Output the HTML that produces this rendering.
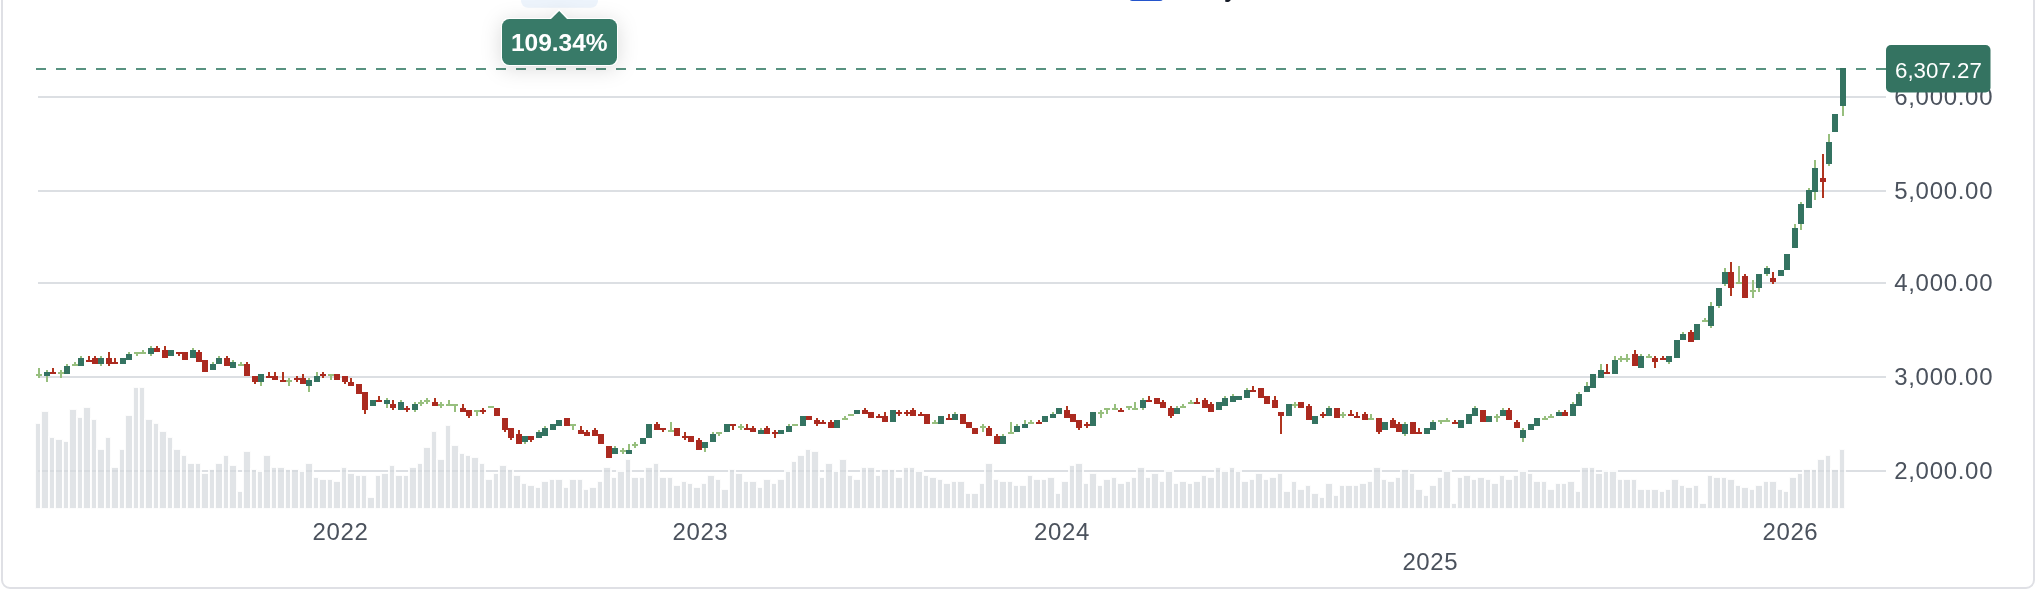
<!DOCTYPE html>
<html><head><meta charset="utf-8"><title>Chart</title>
<style>
html,body{margin:0;padding:0;background:#fff;}
body{width:2038px;height:592px;overflow:hidden;position:relative;font-family:"Liberation Sans",Arial,sans-serif;}
svg{position:absolute;left:0;top:0;will-change:transform;}
.yl{font-size:24px;fill:#4b525d;letter-spacing:0.7px;}
.xl{font-size:24px;fill:#4b525d;letter-spacing:0.6px;}
</style></head>
<body>
<svg width="2038" height="592" viewBox="0 0 2038 592">
<defs>
<filter id="sh" x="-60%" y="-120%" width="220%" height="340%">
<feDropShadow dx="0" dy="3" stdDeviation="10" flood-color="#000" flood-opacity="0.14"/>
</filter>
</defs>
<rect x="2" y="-30" width="2032" height="618" rx="8" ry="8" fill="#fff" stroke="#dfe0e5" stroke-width="2"/>
<rect x="1129" y="-12" width="34.5" height="12.9" rx="3.5" fill="#2455cc"/>
<text x="1224.3" y="-3.9" font-size="30" fill="#141a26" font-family="Liberation Sans, sans-serif">y</text>
<g shape-rendering="crispEdges">
<rect x="38" y="96" width="1848" height="2" fill="#dcdfe3"/>
<rect x="38" y="190" width="1848" height="2" fill="#dcdfe3"/>
<rect x="38" y="282" width="1848" height="2" fill="#dcdfe3"/>
<rect x="38" y="376" width="1848" height="2" fill="#dcdfe3"/>
<rect x="38" y="470" width="1848" height="2" fill="#dcdfe3"/>
<rect x="35" y="423" width="6" height="86" fill="rgba(212,216,221,0.7)" stroke="rgba(255,255,255,0.88)" stroke-width="2"/>
<rect x="41" y="411" width="8" height="98" fill="rgba(212,216,221,0.7)" stroke="rgba(255,255,255,0.88)" stroke-width="2"/>
<rect x="49" y="437" width="6" height="72" fill="rgba(212,216,221,0.7)" stroke="rgba(255,255,255,0.88)" stroke-width="2"/>
<rect x="55" y="439" width="8" height="70" fill="rgba(212,216,221,0.7)" stroke="rgba(255,255,255,0.88)" stroke-width="2"/>
<rect x="63" y="441" width="6" height="68" fill="rgba(212,216,221,0.7)" stroke="rgba(255,255,255,0.88)" stroke-width="2"/>
<rect x="69" y="409" width="8" height="100" fill="rgba(212,216,221,0.7)" stroke="rgba(255,255,255,0.88)" stroke-width="2"/>
<rect x="77" y="417" width="6" height="92" fill="rgba(212,216,221,0.7)" stroke="rgba(255,255,255,0.88)" stroke-width="2"/>
<rect x="83" y="407" width="8" height="102" fill="rgba(212,216,221,0.7)" stroke="rgba(255,255,255,0.88)" stroke-width="2"/>
<rect x="91" y="419" width="6" height="90" fill="rgba(212,216,221,0.7)" stroke="rgba(255,255,255,0.88)" stroke-width="2"/>
<rect x="97" y="449" width="8" height="60" fill="rgba(212,216,221,0.7)" stroke="rgba(255,255,255,0.88)" stroke-width="2"/>
<rect x="105" y="437" width="6" height="72" fill="rgba(212,216,221,0.7)" stroke="rgba(255,255,255,0.88)" stroke-width="2"/>
<rect x="111" y="467" width="8" height="42" fill="rgba(212,216,221,0.7)" stroke="rgba(255,255,255,0.88)" stroke-width="2"/>
<rect x="119" y="449" width="6" height="60" fill="rgba(212,216,221,0.7)" stroke="rgba(255,255,255,0.88)" stroke-width="2"/>
<rect x="125" y="415" width="8" height="94" fill="rgba(212,216,221,0.7)" stroke="rgba(255,255,255,0.88)" stroke-width="2"/>
<rect x="133" y="387" width="6" height="122" fill="rgba(212,216,221,0.7)" stroke="rgba(255,255,255,0.88)" stroke-width="2"/>
<rect x="139" y="387" width="6" height="122" fill="rgba(212,216,221,0.7)" stroke="rgba(255,255,255,0.88)" stroke-width="2"/>
<rect x="145" y="419" width="8" height="90" fill="rgba(212,216,221,0.7)" stroke="rgba(255,255,255,0.88)" stroke-width="2"/>
<rect x="153" y="423" width="6" height="86" fill="rgba(212,216,221,0.7)" stroke="rgba(255,255,255,0.88)" stroke-width="2"/>
<rect x="159" y="431" width="8" height="78" fill="rgba(212,216,221,0.7)" stroke="rgba(255,255,255,0.88)" stroke-width="2"/>
<rect x="167" y="437" width="6" height="72" fill="rgba(212,216,221,0.7)" stroke="rgba(255,255,255,0.88)" stroke-width="2"/>
<rect x="173" y="449" width="8" height="60" fill="rgba(212,216,221,0.7)" stroke="rgba(255,255,255,0.88)" stroke-width="2"/>
<rect x="181" y="455" width="6" height="54" fill="rgba(212,216,221,0.7)" stroke="rgba(255,255,255,0.88)" stroke-width="2"/>
<rect x="187" y="463" width="8" height="46" fill="rgba(212,216,221,0.7)" stroke="rgba(255,255,255,0.88)" stroke-width="2"/>
<rect x="195" y="463" width="6" height="46" fill="rgba(212,216,221,0.7)" stroke="rgba(255,255,255,0.88)" stroke-width="2"/>
<rect x="201" y="473" width="8" height="36" fill="rgba(212,216,221,0.7)" stroke="rgba(255,255,255,0.88)" stroke-width="2"/>
<rect x="209" y="469" width="6" height="40" fill="rgba(212,216,221,0.7)" stroke="rgba(255,255,255,0.88)" stroke-width="2"/>
<rect x="215" y="463" width="8" height="46" fill="rgba(212,216,221,0.7)" stroke="rgba(255,255,255,0.88)" stroke-width="2"/>
<rect x="223" y="455" width="6" height="54" fill="rgba(212,216,221,0.7)" stroke="rgba(255,255,255,0.88)" stroke-width="2"/>
<rect x="229" y="465" width="8" height="44" fill="rgba(212,216,221,0.7)" stroke="rgba(255,255,255,0.88)" stroke-width="2"/>
<rect x="237" y="491" width="6" height="18" fill="rgba(212,216,221,0.7)" stroke="rgba(255,255,255,0.88)" stroke-width="2"/>
<rect x="243" y="451" width="8" height="58" fill="rgba(212,216,221,0.7)" stroke="rgba(255,255,255,0.88)" stroke-width="2"/>
<rect x="251" y="469" width="6" height="40" fill="rgba(212,216,221,0.7)" stroke="rgba(255,255,255,0.88)" stroke-width="2"/>
<rect x="257" y="471" width="6" height="38" fill="rgba(212,216,221,0.7)" stroke="rgba(255,255,255,0.88)" stroke-width="2"/>
<rect x="263" y="455" width="8" height="54" fill="rgba(212,216,221,0.7)" stroke="rgba(255,255,255,0.88)" stroke-width="2"/>
<rect x="271" y="467" width="6" height="42" fill="rgba(212,216,221,0.7)" stroke="rgba(255,255,255,0.88)" stroke-width="2"/>
<rect x="277" y="467" width="8" height="42" fill="rgba(212,216,221,0.7)" stroke="rgba(255,255,255,0.88)" stroke-width="2"/>
<rect x="285" y="469" width="6" height="40" fill="rgba(212,216,221,0.7)" stroke="rgba(255,255,255,0.88)" stroke-width="2"/>
<rect x="291" y="469" width="8" height="40" fill="rgba(212,216,221,0.7)" stroke="rgba(255,255,255,0.88)" stroke-width="2"/>
<rect x="299" y="471" width="6" height="38" fill="rgba(212,216,221,0.7)" stroke="rgba(255,255,255,0.88)" stroke-width="2"/>
<rect x="305" y="463" width="8" height="46" fill="rgba(212,216,221,0.7)" stroke="rgba(255,255,255,0.88)" stroke-width="2"/>
<rect x="313" y="477" width="6" height="32" fill="rgba(212,216,221,0.7)" stroke="rgba(255,255,255,0.88)" stroke-width="2"/>
<rect x="319" y="479" width="8" height="30" fill="rgba(212,216,221,0.7)" stroke="rgba(255,255,255,0.88)" stroke-width="2"/>
<rect x="327" y="479" width="6" height="30" fill="rgba(212,216,221,0.7)" stroke="rgba(255,255,255,0.88)" stroke-width="2"/>
<rect x="333" y="481" width="8" height="28" fill="rgba(212,216,221,0.7)" stroke="rgba(255,255,255,0.88)" stroke-width="2"/>
<rect x="341" y="467" width="6" height="42" fill="rgba(212,216,221,0.7)" stroke="rgba(255,255,255,0.88)" stroke-width="2"/>
<rect x="347" y="473" width="8" height="36" fill="rgba(212,216,221,0.7)" stroke="rgba(255,255,255,0.88)" stroke-width="2"/>
<rect x="355" y="475" width="6" height="34" fill="rgba(212,216,221,0.7)" stroke="rgba(255,255,255,0.88)" stroke-width="2"/>
<rect x="361" y="475" width="6" height="34" fill="rgba(212,216,221,0.7)" stroke="rgba(255,255,255,0.88)" stroke-width="2"/>
<rect x="367" y="497" width="8" height="12" fill="rgba(212,216,221,0.7)" stroke="rgba(255,255,255,0.88)" stroke-width="2"/>
<rect x="375" y="475" width="6" height="34" fill="rgba(212,216,221,0.7)" stroke="rgba(255,255,255,0.88)" stroke-width="2"/>
<rect x="381" y="473" width="8" height="36" fill="rgba(212,216,221,0.7)" stroke="rgba(255,255,255,0.88)" stroke-width="2"/>
<rect x="389" y="465" width="6" height="44" fill="rgba(212,216,221,0.7)" stroke="rgba(255,255,255,0.88)" stroke-width="2"/>
<rect x="395" y="475" width="8" height="34" fill="rgba(212,216,221,0.7)" stroke="rgba(255,255,255,0.88)" stroke-width="2"/>
<rect x="403" y="475" width="6" height="34" fill="rgba(212,216,221,0.7)" stroke="rgba(255,255,255,0.88)" stroke-width="2"/>
<rect x="409" y="467" width="8" height="42" fill="rgba(212,216,221,0.7)" stroke="rgba(255,255,255,0.88)" stroke-width="2"/>
<rect x="417" y="463" width="6" height="46" fill="rgba(212,216,221,0.7)" stroke="rgba(255,255,255,0.88)" stroke-width="2"/>
<rect x="423" y="447" width="8" height="62" fill="rgba(212,216,221,0.7)" stroke="rgba(255,255,255,0.88)" stroke-width="2"/>
<rect x="431" y="431" width="6" height="78" fill="rgba(212,216,221,0.7)" stroke="rgba(255,255,255,0.88)" stroke-width="2"/>
<rect x="437" y="459" width="8" height="50" fill="rgba(212,216,221,0.7)" stroke="rgba(255,255,255,0.88)" stroke-width="2"/>
<rect x="445" y="425" width="6" height="84" fill="rgba(212,216,221,0.7)" stroke="rgba(255,255,255,0.88)" stroke-width="2"/>
<rect x="451" y="445" width="8" height="64" fill="rgba(212,216,221,0.7)" stroke="rgba(255,255,255,0.88)" stroke-width="2"/>
<rect x="459" y="453" width="6" height="56" fill="rgba(212,216,221,0.7)" stroke="rgba(255,255,255,0.88)" stroke-width="2"/>
<rect x="465" y="455" width="6" height="54" fill="rgba(212,216,221,0.7)" stroke="rgba(255,255,255,0.88)" stroke-width="2"/>
<rect x="471" y="457" width="8" height="52" fill="rgba(212,216,221,0.7)" stroke="rgba(255,255,255,0.88)" stroke-width="2"/>
<rect x="479" y="463" width="6" height="46" fill="rgba(212,216,221,0.7)" stroke="rgba(255,255,255,0.88)" stroke-width="2"/>
<rect x="485" y="479" width="8" height="30" fill="rgba(212,216,221,0.7)" stroke="rgba(255,255,255,0.88)" stroke-width="2"/>
<rect x="493" y="473" width="6" height="36" fill="rgba(212,216,221,0.7)" stroke="rgba(255,255,255,0.88)" stroke-width="2"/>
<rect x="499" y="465" width="8" height="44" fill="rgba(212,216,221,0.7)" stroke="rgba(255,255,255,0.88)" stroke-width="2"/>
<rect x="507" y="469" width="6" height="40" fill="rgba(212,216,221,0.7)" stroke="rgba(255,255,255,0.88)" stroke-width="2"/>
<rect x="513" y="475" width="8" height="34" fill="rgba(212,216,221,0.7)" stroke="rgba(255,255,255,0.88)" stroke-width="2"/>
<rect x="521" y="483" width="6" height="26" fill="rgba(212,216,221,0.7)" stroke="rgba(255,255,255,0.88)" stroke-width="2"/>
<rect x="527" y="485" width="8" height="24" fill="rgba(212,216,221,0.7)" stroke="rgba(255,255,255,0.88)" stroke-width="2"/>
<rect x="535" y="487" width="6" height="22" fill="rgba(212,216,221,0.7)" stroke="rgba(255,255,255,0.88)" stroke-width="2"/>
<rect x="541" y="481" width="8" height="28" fill="rgba(212,216,221,0.7)" stroke="rgba(255,255,255,0.88)" stroke-width="2"/>
<rect x="549" y="479" width="6" height="30" fill="rgba(212,216,221,0.7)" stroke="rgba(255,255,255,0.88)" stroke-width="2"/>
<rect x="555" y="479" width="8" height="30" fill="rgba(212,216,221,0.7)" stroke="rgba(255,255,255,0.88)" stroke-width="2"/>
<rect x="563" y="487" width="6" height="22" fill="rgba(212,216,221,0.7)" stroke="rgba(255,255,255,0.88)" stroke-width="2"/>
<rect x="569" y="479" width="8" height="30" fill="rgba(212,216,221,0.7)" stroke="rgba(255,255,255,0.88)" stroke-width="2"/>
<rect x="577" y="479" width="6" height="30" fill="rgba(212,216,221,0.7)" stroke="rgba(255,255,255,0.88)" stroke-width="2"/>
<rect x="583" y="489" width="6" height="20" fill="rgba(212,216,221,0.7)" stroke="rgba(255,255,255,0.88)" stroke-width="2"/>
<rect x="589" y="487" width="8" height="22" fill="rgba(212,216,221,0.7)" stroke="rgba(255,255,255,0.88)" stroke-width="2"/>
<rect x="597" y="481" width="6" height="28" fill="rgba(212,216,221,0.7)" stroke="rgba(255,255,255,0.88)" stroke-width="2"/>
<rect x="603" y="467" width="8" height="42" fill="rgba(212,216,221,0.7)" stroke="rgba(255,255,255,0.88)" stroke-width="2"/>
<rect x="611" y="477" width="6" height="32" fill="rgba(212,216,221,0.7)" stroke="rgba(255,255,255,0.88)" stroke-width="2"/>
<rect x="617" y="471" width="8" height="38" fill="rgba(212,216,221,0.7)" stroke="rgba(255,255,255,0.88)" stroke-width="2"/>
<rect x="625" y="459" width="6" height="50" fill="rgba(212,216,221,0.7)" stroke="rgba(255,255,255,0.88)" stroke-width="2"/>
<rect x="631" y="477" width="8" height="32" fill="rgba(212,216,221,0.7)" stroke="rgba(255,255,255,0.88)" stroke-width="2"/>
<rect x="639" y="477" width="6" height="32" fill="rgba(212,216,221,0.7)" stroke="rgba(255,255,255,0.88)" stroke-width="2"/>
<rect x="645" y="467" width="8" height="42" fill="rgba(212,216,221,0.7)" stroke="rgba(255,255,255,0.88)" stroke-width="2"/>
<rect x="653" y="463" width="6" height="46" fill="rgba(212,216,221,0.7)" stroke="rgba(255,255,255,0.88)" stroke-width="2"/>
<rect x="659" y="477" width="8" height="32" fill="rgba(212,216,221,0.7)" stroke="rgba(255,255,255,0.88)" stroke-width="2"/>
<rect x="667" y="477" width="6" height="32" fill="rgba(212,216,221,0.7)" stroke="rgba(255,255,255,0.88)" stroke-width="2"/>
<rect x="673" y="485" width="8" height="24" fill="rgba(212,216,221,0.7)" stroke="rgba(255,255,255,0.88)" stroke-width="2"/>
<rect x="681" y="481" width="6" height="28" fill="rgba(212,216,221,0.7)" stroke="rgba(255,255,255,0.88)" stroke-width="2"/>
<rect x="687" y="483" width="6" height="26" fill="rgba(212,216,221,0.7)" stroke="rgba(255,255,255,0.88)" stroke-width="2"/>
<rect x="693" y="487" width="8" height="22" fill="rgba(212,216,221,0.7)" stroke="rgba(255,255,255,0.88)" stroke-width="2"/>
<rect x="701" y="483" width="6" height="26" fill="rgba(212,216,221,0.7)" stroke="rgba(255,255,255,0.88)" stroke-width="2"/>
<rect x="707" y="475" width="8" height="34" fill="rgba(212,216,221,0.7)" stroke="rgba(255,255,255,0.88)" stroke-width="2"/>
<rect x="715" y="479" width="6" height="30" fill="rgba(212,216,221,0.7)" stroke="rgba(255,255,255,0.88)" stroke-width="2"/>
<rect x="721" y="489" width="8" height="20" fill="rgba(212,216,221,0.7)" stroke="rgba(255,255,255,0.88)" stroke-width="2"/>
<rect x="729" y="469" width="6" height="40" fill="rgba(212,216,221,0.7)" stroke="rgba(255,255,255,0.88)" stroke-width="2"/>
<rect x="735" y="473" width="8" height="36" fill="rgba(212,216,221,0.7)" stroke="rgba(255,255,255,0.88)" stroke-width="2"/>
<rect x="743" y="481" width="6" height="28" fill="rgba(212,216,221,0.7)" stroke="rgba(255,255,255,0.88)" stroke-width="2"/>
<rect x="749" y="481" width="8" height="28" fill="rgba(212,216,221,0.7)" stroke="rgba(255,255,255,0.88)" stroke-width="2"/>
<rect x="757" y="487" width="6" height="22" fill="rgba(212,216,221,0.7)" stroke="rgba(255,255,255,0.88)" stroke-width="2"/>
<rect x="763" y="479" width="8" height="30" fill="rgba(212,216,221,0.7)" stroke="rgba(255,255,255,0.88)" stroke-width="2"/>
<rect x="771" y="483" width="6" height="26" fill="rgba(212,216,221,0.7)" stroke="rgba(255,255,255,0.88)" stroke-width="2"/>
<rect x="777" y="479" width="8" height="30" fill="rgba(212,216,221,0.7)" stroke="rgba(255,255,255,0.88)" stroke-width="2"/>
<rect x="785" y="471" width="6" height="38" fill="rgba(212,216,221,0.7)" stroke="rgba(255,255,255,0.88)" stroke-width="2"/>
<rect x="791" y="461" width="6" height="48" fill="rgba(212,216,221,0.7)" stroke="rgba(255,255,255,0.88)" stroke-width="2"/>
<rect x="797" y="455" width="8" height="54" fill="rgba(212,216,221,0.7)" stroke="rgba(255,255,255,0.88)" stroke-width="2"/>
<rect x="805" y="449" width="6" height="60" fill="rgba(212,216,221,0.7)" stroke="rgba(255,255,255,0.88)" stroke-width="2"/>
<rect x="811" y="451" width="8" height="58" fill="rgba(212,216,221,0.7)" stroke="rgba(255,255,255,0.88)" stroke-width="2"/>
<rect x="819" y="477" width="6" height="32" fill="rgba(212,216,221,0.7)" stroke="rgba(255,255,255,0.88)" stroke-width="2"/>
<rect x="825" y="463" width="8" height="46" fill="rgba(212,216,221,0.7)" stroke="rgba(255,255,255,0.88)" stroke-width="2"/>
<rect x="833" y="471" width="6" height="38" fill="rgba(212,216,221,0.7)" stroke="rgba(255,255,255,0.88)" stroke-width="2"/>
<rect x="839" y="459" width="8" height="50" fill="rgba(212,216,221,0.7)" stroke="rgba(255,255,255,0.88)" stroke-width="2"/>
<rect x="847" y="475" width="6" height="34" fill="rgba(212,216,221,0.7)" stroke="rgba(255,255,255,0.88)" stroke-width="2"/>
<rect x="853" y="479" width="8" height="30" fill="rgba(212,216,221,0.7)" stroke="rgba(255,255,255,0.88)" stroke-width="2"/>
<rect x="861" y="467" width="6" height="42" fill="rgba(212,216,221,0.7)" stroke="rgba(255,255,255,0.88)" stroke-width="2"/>
<rect x="867" y="467" width="8" height="42" fill="rgba(212,216,221,0.7)" stroke="rgba(255,255,255,0.88)" stroke-width="2"/>
<rect x="875" y="475" width="6" height="34" fill="rgba(212,216,221,0.7)" stroke="rgba(255,255,255,0.88)" stroke-width="2"/>
<rect x="881" y="469" width="8" height="40" fill="rgba(212,216,221,0.7)" stroke="rgba(255,255,255,0.88)" stroke-width="2"/>
<rect x="889" y="469" width="6" height="40" fill="rgba(212,216,221,0.7)" stroke="rgba(255,255,255,0.88)" stroke-width="2"/>
<rect x="895" y="477" width="8" height="32" fill="rgba(212,216,221,0.7)" stroke="rgba(255,255,255,0.88)" stroke-width="2"/>
<rect x="903" y="467" width="6" height="42" fill="rgba(212,216,221,0.7)" stroke="rgba(255,255,255,0.88)" stroke-width="2"/>
<rect x="909" y="467" width="6" height="42" fill="rgba(212,216,221,0.7)" stroke="rgba(255,255,255,0.88)" stroke-width="2"/>
<rect x="915" y="471" width="8" height="38" fill="rgba(212,216,221,0.7)" stroke="rgba(255,255,255,0.88)" stroke-width="2"/>
<rect x="923" y="475" width="6" height="34" fill="rgba(212,216,221,0.7)" stroke="rgba(255,255,255,0.88)" stroke-width="2"/>
<rect x="929" y="477" width="8" height="32" fill="rgba(212,216,221,0.7)" stroke="rgba(255,255,255,0.88)" stroke-width="2"/>
<rect x="937" y="479" width="6" height="30" fill="rgba(212,216,221,0.7)" stroke="rgba(255,255,255,0.88)" stroke-width="2"/>
<rect x="943" y="483" width="8" height="26" fill="rgba(212,216,221,0.7)" stroke="rgba(255,255,255,0.88)" stroke-width="2"/>
<rect x="951" y="481" width="6" height="28" fill="rgba(212,216,221,0.7)" stroke="rgba(255,255,255,0.88)" stroke-width="2"/>
<rect x="957" y="481" width="8" height="28" fill="rgba(212,216,221,0.7)" stroke="rgba(255,255,255,0.88)" stroke-width="2"/>
<rect x="965" y="493" width="6" height="16" fill="rgba(212,216,221,0.7)" stroke="rgba(255,255,255,0.88)" stroke-width="2"/>
<rect x="971" y="493" width="8" height="16" fill="rgba(212,216,221,0.7)" stroke="rgba(255,255,255,0.88)" stroke-width="2"/>
<rect x="979" y="483" width="6" height="26" fill="rgba(212,216,221,0.7)" stroke="rgba(255,255,255,0.88)" stroke-width="2"/>
<rect x="985" y="463" width="8" height="46" fill="rgba(212,216,221,0.7)" stroke="rgba(255,255,255,0.88)" stroke-width="2"/>
<rect x="993" y="479" width="6" height="30" fill="rgba(212,216,221,0.7)" stroke="rgba(255,255,255,0.88)" stroke-width="2"/>
<rect x="999" y="481" width="8" height="28" fill="rgba(212,216,221,0.7)" stroke="rgba(255,255,255,0.88)" stroke-width="2"/>
<rect x="1007" y="481" width="6" height="28" fill="rgba(212,216,221,0.7)" stroke="rgba(255,255,255,0.88)" stroke-width="2"/>
<rect x="1013" y="485" width="6" height="24" fill="rgba(212,216,221,0.7)" stroke="rgba(255,255,255,0.88)" stroke-width="2"/>
<rect x="1019" y="485" width="8" height="24" fill="rgba(212,216,221,0.7)" stroke="rgba(255,255,255,0.88)" stroke-width="2"/>
<rect x="1027" y="475" width="6" height="34" fill="rgba(212,216,221,0.7)" stroke="rgba(255,255,255,0.88)" stroke-width="2"/>
<rect x="1033" y="479" width="8" height="30" fill="rgba(212,216,221,0.7)" stroke="rgba(255,255,255,0.88)" stroke-width="2"/>
<rect x="1041" y="479" width="6" height="30" fill="rgba(212,216,221,0.7)" stroke="rgba(255,255,255,0.88)" stroke-width="2"/>
<rect x="1047" y="477" width="8" height="32" fill="rgba(212,216,221,0.7)" stroke="rgba(255,255,255,0.88)" stroke-width="2"/>
<rect x="1055" y="493" width="6" height="16" fill="rgba(212,216,221,0.7)" stroke="rgba(255,255,255,0.88)" stroke-width="2"/>
<rect x="1061" y="481" width="8" height="28" fill="rgba(212,216,221,0.7)" stroke="rgba(255,255,255,0.88)" stroke-width="2"/>
<rect x="1069" y="465" width="6" height="44" fill="rgba(212,216,221,0.7)" stroke="rgba(255,255,255,0.88)" stroke-width="2"/>
<rect x="1075" y="463" width="8" height="46" fill="rgba(212,216,221,0.7)" stroke="rgba(255,255,255,0.88)" stroke-width="2"/>
<rect x="1083" y="483" width="6" height="26" fill="rgba(212,216,221,0.7)" stroke="rgba(255,255,255,0.88)" stroke-width="2"/>
<rect x="1089" y="473" width="8" height="36" fill="rgba(212,216,221,0.7)" stroke="rgba(255,255,255,0.88)" stroke-width="2"/>
<rect x="1097" y="485" width="6" height="24" fill="rgba(212,216,221,0.7)" stroke="rgba(255,255,255,0.88)" stroke-width="2"/>
<rect x="1103" y="479" width="8" height="30" fill="rgba(212,216,221,0.7)" stroke="rgba(255,255,255,0.88)" stroke-width="2"/>
<rect x="1111" y="477" width="6" height="32" fill="rgba(212,216,221,0.7)" stroke="rgba(255,255,255,0.88)" stroke-width="2"/>
<rect x="1117" y="483" width="8" height="26" fill="rgba(212,216,221,0.7)" stroke="rgba(255,255,255,0.88)" stroke-width="2"/>
<rect x="1125" y="481" width="6" height="28" fill="rgba(212,216,221,0.7)" stroke="rgba(255,255,255,0.88)" stroke-width="2"/>
<rect x="1131" y="477" width="6" height="32" fill="rgba(212,216,221,0.7)" stroke="rgba(255,255,255,0.88)" stroke-width="2"/>
<rect x="1137" y="467" width="8" height="42" fill="rgba(212,216,221,0.7)" stroke="rgba(255,255,255,0.88)" stroke-width="2"/>
<rect x="1145" y="477" width="6" height="32" fill="rgba(212,216,221,0.7)" stroke="rgba(255,255,255,0.88)" stroke-width="2"/>
<rect x="1151" y="473" width="8" height="36" fill="rgba(212,216,221,0.7)" stroke="rgba(255,255,255,0.88)" stroke-width="2"/>
<rect x="1159" y="481" width="6" height="28" fill="rgba(212,216,221,0.7)" stroke="rgba(255,255,255,0.88)" stroke-width="2"/>
<rect x="1165" y="471" width="8" height="38" fill="rgba(212,216,221,0.7)" stroke="rgba(255,255,255,0.88)" stroke-width="2"/>
<rect x="1173" y="483" width="6" height="26" fill="rgba(212,216,221,0.7)" stroke="rgba(255,255,255,0.88)" stroke-width="2"/>
<rect x="1179" y="481" width="8" height="28" fill="rgba(212,216,221,0.7)" stroke="rgba(255,255,255,0.88)" stroke-width="2"/>
<rect x="1187" y="483" width="6" height="26" fill="rgba(212,216,221,0.7)" stroke="rgba(255,255,255,0.88)" stroke-width="2"/>
<rect x="1193" y="481" width="8" height="28" fill="rgba(212,216,221,0.7)" stroke="rgba(255,255,255,0.88)" stroke-width="2"/>
<rect x="1201" y="475" width="6" height="34" fill="rgba(212,216,221,0.7)" stroke="rgba(255,255,255,0.88)" stroke-width="2"/>
<rect x="1207" y="477" width="8" height="32" fill="rgba(212,216,221,0.7)" stroke="rgba(255,255,255,0.88)" stroke-width="2"/>
<rect x="1215" y="467" width="6" height="42" fill="rgba(212,216,221,0.7)" stroke="rgba(255,255,255,0.88)" stroke-width="2"/>
<rect x="1221" y="471" width="8" height="38" fill="rgba(212,216,221,0.7)" stroke="rgba(255,255,255,0.88)" stroke-width="2"/>
<rect x="1229" y="467" width="6" height="42" fill="rgba(212,216,221,0.7)" stroke="rgba(255,255,255,0.88)" stroke-width="2"/>
<rect x="1235" y="471" width="6" height="38" fill="rgba(212,216,221,0.7)" stroke="rgba(255,255,255,0.88)" stroke-width="2"/>
<rect x="1241" y="481" width="8" height="28" fill="rgba(212,216,221,0.7)" stroke="rgba(255,255,255,0.88)" stroke-width="2"/>
<rect x="1249" y="479" width="6" height="30" fill="rgba(212,216,221,0.7)" stroke="rgba(255,255,255,0.88)" stroke-width="2"/>
<rect x="1255" y="473" width="8" height="36" fill="rgba(212,216,221,0.7)" stroke="rgba(255,255,255,0.88)" stroke-width="2"/>
<rect x="1263" y="479" width="6" height="30" fill="rgba(212,216,221,0.7)" stroke="rgba(255,255,255,0.88)" stroke-width="2"/>
<rect x="1269" y="477" width="8" height="32" fill="rgba(212,216,221,0.7)" stroke="rgba(255,255,255,0.88)" stroke-width="2"/>
<rect x="1277" y="473" width="6" height="36" fill="rgba(212,216,221,0.7)" stroke="rgba(255,255,255,0.88)" stroke-width="2"/>
<rect x="1283" y="491" width="8" height="18" fill="rgba(212,216,221,0.7)" stroke="rgba(255,255,255,0.88)" stroke-width="2"/>
<rect x="1291" y="481" width="6" height="28" fill="rgba(212,216,221,0.7)" stroke="rgba(255,255,255,0.88)" stroke-width="2"/>
<rect x="1297" y="489" width="8" height="20" fill="rgba(212,216,221,0.7)" stroke="rgba(255,255,255,0.88)" stroke-width="2"/>
<rect x="1305" y="485" width="6" height="24" fill="rgba(212,216,221,0.7)" stroke="rgba(255,255,255,0.88)" stroke-width="2"/>
<rect x="1311" y="493" width="8" height="16" fill="rgba(212,216,221,0.7)" stroke="rgba(255,255,255,0.88)" stroke-width="2"/>
<rect x="1319" y="497" width="6" height="12" fill="rgba(212,216,221,0.7)" stroke="rgba(255,255,255,0.88)" stroke-width="2"/>
<rect x="1325" y="483" width="8" height="26" fill="rgba(212,216,221,0.7)" stroke="rgba(255,255,255,0.88)" stroke-width="2"/>
<rect x="1333" y="495" width="6" height="14" fill="rgba(212,216,221,0.7)" stroke="rgba(255,255,255,0.88)" stroke-width="2"/>
<rect x="1339" y="485" width="6" height="24" fill="rgba(212,216,221,0.7)" stroke="rgba(255,255,255,0.88)" stroke-width="2"/>
<rect x="1345" y="485" width="8" height="24" fill="rgba(212,216,221,0.7)" stroke="rgba(255,255,255,0.88)" stroke-width="2"/>
<rect x="1353" y="485" width="6" height="24" fill="rgba(212,216,221,0.7)" stroke="rgba(255,255,255,0.88)" stroke-width="2"/>
<rect x="1359" y="483" width="8" height="26" fill="rgba(212,216,221,0.7)" stroke="rgba(255,255,255,0.88)" stroke-width="2"/>
<rect x="1367" y="481" width="6" height="28" fill="rgba(212,216,221,0.7)" stroke="rgba(255,255,255,0.88)" stroke-width="2"/>
<rect x="1373" y="467" width="8" height="42" fill="rgba(212,216,221,0.7)" stroke="rgba(255,255,255,0.88)" stroke-width="2"/>
<rect x="1381" y="479" width="6" height="30" fill="rgba(212,216,221,0.7)" stroke="rgba(255,255,255,0.88)" stroke-width="2"/>
<rect x="1387" y="481" width="8" height="28" fill="rgba(212,216,221,0.7)" stroke="rgba(255,255,255,0.88)" stroke-width="2"/>
<rect x="1395" y="477" width="6" height="32" fill="rgba(212,216,221,0.7)" stroke="rgba(255,255,255,0.88)" stroke-width="2"/>
<rect x="1401" y="469" width="8" height="40" fill="rgba(212,216,221,0.7)" stroke="rgba(255,255,255,0.88)" stroke-width="2"/>
<rect x="1409" y="473" width="6" height="36" fill="rgba(212,216,221,0.7)" stroke="rgba(255,255,255,0.88)" stroke-width="2"/>
<rect x="1415" y="489" width="8" height="20" fill="rgba(212,216,221,0.7)" stroke="rgba(255,255,255,0.88)" stroke-width="2"/>
<rect x="1423" y="495" width="6" height="14" fill="rgba(212,216,221,0.7)" stroke="rgba(255,255,255,0.88)" stroke-width="2"/>
<rect x="1429" y="485" width="8" height="24" fill="rgba(212,216,221,0.7)" stroke="rgba(255,255,255,0.88)" stroke-width="2"/>
<rect x="1437" y="477" width="6" height="32" fill="rgba(212,216,221,0.7)" stroke="rgba(255,255,255,0.88)" stroke-width="2"/>
<rect x="1443" y="471" width="8" height="38" fill="rgba(212,216,221,0.7)" stroke="rgba(255,255,255,0.88)" stroke-width="2"/>
<rect x="1451" y="503" width="6" height="6" fill="rgba(212,216,221,0.7)" stroke="rgba(255,255,255,0.88)" stroke-width="2"/>
<rect x="1457" y="477" width="6" height="32" fill="rgba(212,216,221,0.7)" stroke="rgba(255,255,255,0.88)" stroke-width="2"/>
<rect x="1463" y="475" width="8" height="34" fill="rgba(212,216,221,0.7)" stroke="rgba(255,255,255,0.88)" stroke-width="2"/>
<rect x="1471" y="479" width="6" height="30" fill="rgba(212,216,221,0.7)" stroke="rgba(255,255,255,0.88)" stroke-width="2"/>
<rect x="1477" y="477" width="8" height="32" fill="rgba(212,216,221,0.7)" stroke="rgba(255,255,255,0.88)" stroke-width="2"/>
<rect x="1485" y="479" width="6" height="30" fill="rgba(212,216,221,0.7)" stroke="rgba(255,255,255,0.88)" stroke-width="2"/>
<rect x="1491" y="483" width="8" height="26" fill="rgba(212,216,221,0.7)" stroke="rgba(255,255,255,0.88)" stroke-width="2"/>
<rect x="1499" y="475" width="6" height="34" fill="rgba(212,216,221,0.7)" stroke="rgba(255,255,255,0.88)" stroke-width="2"/>
<rect x="1505" y="479" width="8" height="30" fill="rgba(212,216,221,0.7)" stroke="rgba(255,255,255,0.88)" stroke-width="2"/>
<rect x="1513" y="475" width="6" height="34" fill="rgba(212,216,221,0.7)" stroke="rgba(255,255,255,0.88)" stroke-width="2"/>
<rect x="1519" y="471" width="8" height="38" fill="rgba(212,216,221,0.7)" stroke="rgba(255,255,255,0.88)" stroke-width="2"/>
<rect x="1527" y="473" width="6" height="36" fill="rgba(212,216,221,0.7)" stroke="rgba(255,255,255,0.88)" stroke-width="2"/>
<rect x="1533" y="481" width="8" height="28" fill="rgba(212,216,221,0.7)" stroke="rgba(255,255,255,0.88)" stroke-width="2"/>
<rect x="1541" y="481" width="6" height="28" fill="rgba(212,216,221,0.7)" stroke="rgba(255,255,255,0.88)" stroke-width="2"/>
<rect x="1547" y="489" width="8" height="20" fill="rgba(212,216,221,0.7)" stroke="rgba(255,255,255,0.88)" stroke-width="2"/>
<rect x="1555" y="483" width="6" height="26" fill="rgba(212,216,221,0.7)" stroke="rgba(255,255,255,0.88)" stroke-width="2"/>
<rect x="1561" y="483" width="6" height="26" fill="rgba(212,216,221,0.7)" stroke="rgba(255,255,255,0.88)" stroke-width="2"/>
<rect x="1567" y="481" width="8" height="28" fill="rgba(212,216,221,0.7)" stroke="rgba(255,255,255,0.88)" stroke-width="2"/>
<rect x="1575" y="491" width="6" height="18" fill="rgba(212,216,221,0.7)" stroke="rgba(255,255,255,0.88)" stroke-width="2"/>
<rect x="1581" y="467" width="8" height="42" fill="rgba(212,216,221,0.7)" stroke="rgba(255,255,255,0.88)" stroke-width="2"/>
<rect x="1589" y="467" width="6" height="42" fill="rgba(212,216,221,0.7)" stroke="rgba(255,255,255,0.88)" stroke-width="2"/>
<rect x="1595" y="473" width="8" height="36" fill="rgba(212,216,221,0.7)" stroke="rgba(255,255,255,0.88)" stroke-width="2"/>
<rect x="1603" y="471" width="6" height="38" fill="rgba(212,216,221,0.7)" stroke="rgba(255,255,255,0.88)" stroke-width="2"/>
<rect x="1609" y="471" width="8" height="38" fill="rgba(212,216,221,0.7)" stroke="rgba(255,255,255,0.88)" stroke-width="2"/>
<rect x="1617" y="479" width="6" height="30" fill="rgba(212,216,221,0.7)" stroke="rgba(255,255,255,0.88)" stroke-width="2"/>
<rect x="1623" y="479" width="8" height="30" fill="rgba(212,216,221,0.7)" stroke="rgba(255,255,255,0.88)" stroke-width="2"/>
<rect x="1631" y="479" width="6" height="30" fill="rgba(212,216,221,0.7)" stroke="rgba(255,255,255,0.88)" stroke-width="2"/>
<rect x="1637" y="489" width="8" height="20" fill="rgba(212,216,221,0.7)" stroke="rgba(255,255,255,0.88)" stroke-width="2"/>
<rect x="1645" y="489" width="6" height="20" fill="rgba(212,216,221,0.7)" stroke="rgba(255,255,255,0.88)" stroke-width="2"/>
<rect x="1651" y="489" width="8" height="20" fill="rgba(212,216,221,0.7)" stroke="rgba(255,255,255,0.88)" stroke-width="2"/>
<rect x="1659" y="491" width="6" height="18" fill="rgba(212,216,221,0.7)" stroke="rgba(255,255,255,0.88)" stroke-width="2"/>
<rect x="1665" y="489" width="6" height="20" fill="rgba(212,216,221,0.7)" stroke="rgba(255,255,255,0.88)" stroke-width="2"/>
<rect x="1671" y="479" width="8" height="30" fill="rgba(212,216,221,0.7)" stroke="rgba(255,255,255,0.88)" stroke-width="2"/>
<rect x="1679" y="485" width="6" height="24" fill="rgba(212,216,221,0.7)" stroke="rgba(255,255,255,0.88)" stroke-width="2"/>
<rect x="1685" y="487" width="8" height="22" fill="rgba(212,216,221,0.7)" stroke="rgba(255,255,255,0.88)" stroke-width="2"/>
<rect x="1693" y="485" width="6" height="24" fill="rgba(212,216,221,0.7)" stroke="rgba(255,255,255,0.88)" stroke-width="2"/>
<rect x="1699" y="503" width="8" height="6" fill="rgba(212,216,221,0.7)" stroke="rgba(255,255,255,0.88)" stroke-width="2"/>
<rect x="1707" y="475" width="6" height="34" fill="rgba(212,216,221,0.7)" stroke="rgba(255,255,255,0.88)" stroke-width="2"/>
<rect x="1713" y="477" width="8" height="32" fill="rgba(212,216,221,0.7)" stroke="rgba(255,255,255,0.88)" stroke-width="2"/>
<rect x="1721" y="477" width="6" height="32" fill="rgba(212,216,221,0.7)" stroke="rgba(255,255,255,0.88)" stroke-width="2"/>
<rect x="1727" y="479" width="8" height="30" fill="rgba(212,216,221,0.7)" stroke="rgba(255,255,255,0.88)" stroke-width="2"/>
<rect x="1735" y="485" width="6" height="24" fill="rgba(212,216,221,0.7)" stroke="rgba(255,255,255,0.88)" stroke-width="2"/>
<rect x="1741" y="487" width="8" height="22" fill="rgba(212,216,221,0.7)" stroke="rgba(255,255,255,0.88)" stroke-width="2"/>
<rect x="1749" y="489" width="6" height="20" fill="rgba(212,216,221,0.7)" stroke="rgba(255,255,255,0.88)" stroke-width="2"/>
<rect x="1755" y="485" width="8" height="24" fill="rgba(212,216,221,0.7)" stroke="rgba(255,255,255,0.88)" stroke-width="2"/>
<rect x="1763" y="481" width="6" height="28" fill="rgba(212,216,221,0.7)" stroke="rgba(255,255,255,0.88)" stroke-width="2"/>
<rect x="1769" y="481" width="8" height="28" fill="rgba(212,216,221,0.7)" stroke="rgba(255,255,255,0.88)" stroke-width="2"/>
<rect x="1777" y="489" width="6" height="20" fill="rgba(212,216,221,0.7)" stroke="rgba(255,255,255,0.88)" stroke-width="2"/>
<rect x="1783" y="491" width="6" height="18" fill="rgba(212,216,221,0.7)" stroke="rgba(255,255,255,0.88)" stroke-width="2"/>
<rect x="1789" y="477" width="8" height="32" fill="rgba(212,216,221,0.7)" stroke="rgba(255,255,255,0.88)" stroke-width="2"/>
<rect x="1797" y="473" width="6" height="36" fill="rgba(212,216,221,0.7)" stroke="rgba(255,255,255,0.88)" stroke-width="2"/>
<rect x="1803" y="469" width="8" height="40" fill="rgba(212,216,221,0.7)" stroke="rgba(255,255,255,0.88)" stroke-width="2"/>
<rect x="1811" y="469" width="6" height="40" fill="rgba(212,216,221,0.7)" stroke="rgba(255,255,255,0.88)" stroke-width="2"/>
<rect x="1817" y="459" width="8" height="50" fill="rgba(212,216,221,0.7)" stroke="rgba(255,255,255,0.88)" stroke-width="2"/>
<rect x="1825" y="455" width="6" height="54" fill="rgba(212,216,221,0.7)" stroke="rgba(255,255,255,0.88)" stroke-width="2"/>
<rect x="1831" y="469" width="8" height="40" fill="rgba(212,216,221,0.7)" stroke="rgba(255,255,255,0.88)" stroke-width="2"/>
<rect x="1839" y="449" width="6" height="60" fill="rgba(212,216,221,0.7)" stroke="rgba(255,255,255,0.88)" stroke-width="2"/>
<line x1="36" y1="69" x2="1886" y2="69" stroke="#589280" stroke-width="2" stroke-dasharray="10 10"/>
<rect x="38" y="368" width="2" height="6" fill="#97bf7e"/>
<rect x="38" y="376" width="2" height="2" fill="#97bf7e"/>
<rect x="36" y="374" width="6" height="2" fill="#97bf7e"/>
<rect x="46" y="370" width="2" height="2" fill="#97bf7e"/>
<rect x="46" y="376" width="2" height="6" fill="#97bf7e"/>
<rect x="44" y="372" width="6" height="4" fill="#347361"/>
<rect x="52" y="368" width="2" height="4" fill="#b0351f"/>
<rect x="50" y="372" width="6" height="2" fill="#ab2a20"/>
<rect x="60" y="370" width="2" height="2" fill="#97bf7e"/>
<rect x="60" y="374" width="2" height="4" fill="#97bf7e"/>
<rect x="58" y="372" width="6" height="2" fill="#97bf7e"/>
<rect x="66" y="364" width="2" height="2" fill="#97bf7e"/>
<rect x="64" y="366" width="6" height="8" fill="#347361"/>
<rect x="74" y="362" width="2" height="2" fill="#97bf7e"/>
<rect x="72" y="364" width="6" height="2" fill="#97bf7e"/>
<rect x="80" y="356" width="2" height="2" fill="#97bf7e"/>
<rect x="78" y="358" width="6" height="8" fill="#347361"/>
<rect x="88" y="356" width="2" height="4" fill="#b0351f"/>
<rect x="86" y="360" width="6" height="2" fill="#ab2a20"/>
<rect x="94" y="356" width="2" height="2" fill="#b0351f"/>
<rect x="92" y="358" width="6" height="6" fill="#ab2a20"/>
<rect x="100" y="356" width="2" height="2" fill="#97bf7e"/>
<rect x="100" y="364" width="2" height="2" fill="#97bf7e"/>
<rect x="98" y="358" width="6" height="6" fill="#347361"/>
<rect x="108" y="352" width="2" height="6" fill="#b0351f"/>
<rect x="108" y="364" width="2" height="2" fill="#b0351f"/>
<rect x="106" y="358" width="6" height="6" fill="#ab2a20"/>
<rect x="114" y="358" width="2" height="4" fill="#b0351f"/>
<rect x="112" y="362" width="6" height="2" fill="#ab2a20"/>
<rect x="120" y="358" width="6" height="6" fill="#347361"/>
<rect x="128" y="352" width="2" height="2" fill="#97bf7e"/>
<rect x="126" y="354" width="6" height="6" fill="#347361"/>
<rect x="136" y="354" width="2" height="2" fill="#97bf7e"/>
<rect x="134" y="352" width="6" height="2" fill="#97bf7e"/>
<rect x="142" y="350" width="2" height="2" fill="#97bf7e"/>
<rect x="140" y="352" width="6" height="2" fill="#97bf7e"/>
<rect x="150" y="346" width="2" height="2" fill="#97bf7e"/>
<rect x="150" y="354" width="2" height="2" fill="#97bf7e"/>
<rect x="148" y="348" width="6" height="6" fill="#347361"/>
<rect x="156" y="346" width="2" height="2" fill="#b0351f"/>
<rect x="154" y="348" width="6" height="4" fill="#ab2a20"/>
<rect x="164" y="346" width="2" height="4" fill="#b0351f"/>
<rect x="162" y="350" width="6" height="8" fill="#ab2a20"/>
<rect x="168" y="350" width="6" height="6" fill="#347361"/>
<rect x="178" y="354" width="2" height="2" fill="#b0351f"/>
<rect x="176" y="352" width="6" height="2" fill="#ab2a20"/>
<rect x="182" y="352" width="6" height="8" fill="#ab2a20"/>
<rect x="192" y="348" width="2" height="2" fill="#97bf7e"/>
<rect x="190" y="350" width="6" height="8" fill="#347361"/>
<rect x="198" y="350" width="2" height="2" fill="#b0351f"/>
<rect x="196" y="352" width="6" height="10" fill="#ab2a20"/>
<rect x="202" y="360" width="6" height="12" fill="#ab2a20"/>
<rect x="212" y="362" width="2" height="2" fill="#97bf7e"/>
<rect x="210" y="364" width="6" height="6" fill="#347361"/>
<rect x="218" y="356" width="2" height="2" fill="#97bf7e"/>
<rect x="216" y="358" width="6" height="6" fill="#347361"/>
<rect x="226" y="356" width="2" height="2" fill="#b0351f"/>
<rect x="224" y="358" width="6" height="8" fill="#ab2a20"/>
<rect x="232" y="360" width="2" height="2" fill="#97bf7e"/>
<rect x="230" y="362" width="6" height="6" fill="#347361"/>
<rect x="240" y="362" width="2" height="2" fill="#97bf7e"/>
<rect x="238" y="364" width="6" height="2" fill="#97bf7e"/>
<rect x="246" y="362" width="2" height="2" fill="#b0351f"/>
<rect x="244" y="364" width="6" height="12" fill="#ab2a20"/>
<rect x="254" y="382" width="2" height="2" fill="#b0351f"/>
<rect x="252" y="376" width="6" height="6" fill="#ab2a20"/>
<rect x="260" y="382" width="2" height="4" fill="#97bf7e"/>
<rect x="258" y="374" width="6" height="8" fill="#347361"/>
<rect x="268" y="372" width="2" height="4" fill="#b0351f"/>
<rect x="266" y="376" width="6" height="2" fill="#ab2a20"/>
<rect x="274" y="372" width="2" height="4" fill="#b0351f"/>
<rect x="272" y="376" width="6" height="4" fill="#ab2a20"/>
<rect x="282" y="372" width="2" height="8" fill="#b0351f"/>
<rect x="280" y="380" width="6" height="2" fill="#ab2a20"/>
<rect x="288" y="378" width="2" height="2" fill="#97bf7e"/>
<rect x="288" y="382" width="2" height="4" fill="#97bf7e"/>
<rect x="286" y="380" width="6" height="2" fill="#97bf7e"/>
<rect x="296" y="376" width="2" height="2" fill="#b0351f"/>
<rect x="296" y="380" width="2" height="2" fill="#b0351f"/>
<rect x="294" y="378" width="6" height="2" fill="#ab2a20"/>
<rect x="302" y="374" width="2" height="4" fill="#b0351f"/>
<rect x="300" y="378" width="6" height="6" fill="#ab2a20"/>
<rect x="308" y="378" width="2" height="2" fill="#97bf7e"/>
<rect x="308" y="386" width="2" height="6" fill="#97bf7e"/>
<rect x="306" y="380" width="6" height="6" fill="#347361"/>
<rect x="316" y="372" width="2" height="4" fill="#97bf7e"/>
<rect x="314" y="376" width="6" height="6" fill="#347361"/>
<rect x="322" y="372" width="2" height="2" fill="#b0351f"/>
<rect x="322" y="376" width="2" height="2" fill="#b0351f"/>
<rect x="320" y="374" width="6" height="2" fill="#ab2a20"/>
<rect x="330" y="376" width="2" height="4" fill="#97bf7e"/>
<rect x="328" y="374" width="6" height="2" fill="#97bf7e"/>
<rect x="334" y="374" width="6" height="6" fill="#ab2a20"/>
<rect x="344" y="382" width="2" height="2" fill="#b0351f"/>
<rect x="342" y="376" width="6" height="6" fill="#ab2a20"/>
<rect x="350" y="378" width="2" height="4" fill="#b0351f"/>
<rect x="348" y="382" width="6" height="4" fill="#ab2a20"/>
<rect x="356" y="384" width="6" height="10" fill="#ab2a20"/>
<rect x="364" y="410" width="2" height="4" fill="#b0351f"/>
<rect x="362" y="392" width="6" height="18" fill="#ab2a20"/>
<rect x="370" y="400" width="6" height="6" fill="#347361"/>
<rect x="378" y="396" width="2" height="4" fill="#b0351f"/>
<rect x="376" y="400" width="6" height="2" fill="#ab2a20"/>
<rect x="386" y="398" width="2" height="2" fill="#97bf7e"/>
<rect x="386" y="404" width="2" height="4" fill="#97bf7e"/>
<rect x="384" y="400" width="6" height="4" fill="#347361"/>
<rect x="392" y="400" width="2" height="4" fill="#b0351f"/>
<rect x="392" y="408" width="2" height="2" fill="#b0351f"/>
<rect x="390" y="404" width="6" height="4" fill="#ab2a20"/>
<rect x="400" y="400" width="2" height="2" fill="#97bf7e"/>
<rect x="398" y="402" width="6" height="8" fill="#347361"/>
<rect x="406" y="406" width="2" height="2" fill="#b0351f"/>
<rect x="406" y="410" width="2" height="2" fill="#b0351f"/>
<rect x="404" y="408" width="6" height="2" fill="#ab2a20"/>
<rect x="414" y="402" width="2" height="2" fill="#97bf7e"/>
<rect x="414" y="410" width="2" height="2" fill="#97bf7e"/>
<rect x="412" y="404" width="6" height="6" fill="#347361"/>
<rect x="420" y="400" width="2" height="2" fill="#97bf7e"/>
<rect x="420" y="404" width="2" height="2" fill="#97bf7e"/>
<rect x="418" y="402" width="6" height="2" fill="#97bf7e"/>
<rect x="426" y="398" width="2" height="2" fill="#97bf7e"/>
<rect x="426" y="402" width="2" height="2" fill="#97bf7e"/>
<rect x="424" y="400" width="6" height="2" fill="#97bf7e"/>
<rect x="434" y="398" width="2" height="4" fill="#b0351f"/>
<rect x="432" y="402" width="6" height="4" fill="#ab2a20"/>
<rect x="440" y="402" width="2" height="2" fill="#97bf7e"/>
<rect x="440" y="406" width="2" height="2" fill="#97bf7e"/>
<rect x="438" y="404" width="6" height="2" fill="#97bf7e"/>
<rect x="448" y="400" width="2" height="4" fill="#97bf7e"/>
<rect x="446" y="404" width="6" height="2" fill="#97bf7e"/>
<rect x="454" y="406" width="2" height="6" fill="#97bf7e"/>
<rect x="452" y="404" width="6" height="2" fill="#97bf7e"/>
<rect x="462" y="404" width="2" height="4" fill="#b0351f"/>
<rect x="460" y="408" width="6" height="4" fill="#ab2a20"/>
<rect x="468" y="416" width="2" height="2" fill="#b0351f"/>
<rect x="466" y="410" width="6" height="6" fill="#ab2a20"/>
<rect x="476" y="412" width="2" height="4" fill="#97bf7e"/>
<rect x="474" y="410" width="6" height="2" fill="#97bf7e"/>
<rect x="482" y="408" width="2" height="2" fill="#b0351f"/>
<rect x="482" y="412" width="2" height="2" fill="#b0351f"/>
<rect x="480" y="410" width="6" height="2" fill="#ab2a20"/>
<rect x="488" y="406" width="6" height="2" fill="#97bf7e"/>
<rect x="494" y="408" width="6" height="8" fill="#ab2a20"/>
<rect x="504" y="430" width="2" height="2" fill="#b0351f"/>
<rect x="502" y="418" width="6" height="12" fill="#ab2a20"/>
<rect x="510" y="438" width="2" height="2" fill="#b0351f"/>
<rect x="508" y="428" width="6" height="10" fill="#ab2a20"/>
<rect x="518" y="430" width="2" height="4" fill="#b0351f"/>
<rect x="516" y="434" width="6" height="10" fill="#ab2a20"/>
<rect x="524" y="442" width="2" height="2" fill="#97bf7e"/>
<rect x="522" y="436" width="6" height="6" fill="#347361"/>
<rect x="530" y="440" width="2" height="2" fill="#b0351f"/>
<rect x="528" y="436" width="6" height="4" fill="#ab2a20"/>
<rect x="538" y="430" width="2" height="2" fill="#97bf7e"/>
<rect x="536" y="432" width="6" height="6" fill="#347361"/>
<rect x="544" y="426" width="2" height="2" fill="#97bf7e"/>
<rect x="542" y="428" width="6" height="8" fill="#347361"/>
<rect x="550" y="424" width="6" height="6" fill="#347361"/>
<rect x="556" y="420" width="6" height="6" fill="#347361"/>
<rect x="564" y="418" width="6" height="8" fill="#ab2a20"/>
<rect x="572" y="426" width="2" height="4" fill="#97bf7e"/>
<rect x="570" y="424" width="6" height="2" fill="#97bf7e"/>
<rect x="580" y="426" width="2" height="4" fill="#b0351f"/>
<rect x="578" y="430" width="6" height="4" fill="#ab2a20"/>
<rect x="586" y="430" width="2" height="2" fill="#b0351f"/>
<rect x="584" y="432" width="6" height="4" fill="#ab2a20"/>
<rect x="594" y="428" width="2" height="2" fill="#b0351f"/>
<rect x="592" y="430" width="6" height="6" fill="#ab2a20"/>
<rect x="598" y="434" width="6" height="10" fill="#ab2a20"/>
<rect x="606" y="446" width="6" height="12" fill="#ab2a20"/>
<rect x="614" y="446" width="2" height="2" fill="#97bf7e"/>
<rect x="612" y="448" width="6" height="6" fill="#347361"/>
<rect x="622" y="448" width="2" height="2" fill="#97bf7e"/>
<rect x="622" y="452" width="2" height="2" fill="#97bf7e"/>
<rect x="620" y="450" width="6" height="2" fill="#97bf7e"/>
<rect x="628" y="444" width="2" height="6" fill="#97bf7e"/>
<rect x="626" y="450" width="6" height="4" fill="#347361"/>
<rect x="634" y="442" width="2" height="2" fill="#97bf7e"/>
<rect x="634" y="446" width="2" height="2" fill="#97bf7e"/>
<rect x="632" y="444" width="6" height="2" fill="#97bf7e"/>
<rect x="640" y="438" width="6" height="6" fill="#347361"/>
<rect x="646" y="424" width="6" height="14" fill="#347361"/>
<rect x="656" y="422" width="2" height="2" fill="#b0351f"/>
<rect x="654" y="424" width="6" height="6" fill="#ab2a20"/>
<rect x="662" y="430" width="2" height="2" fill="#b0351f"/>
<rect x="660" y="428" width="6" height="2" fill="#ab2a20"/>
<rect x="670" y="422" width="2" height="8" fill="#97bf7e"/>
<rect x="668" y="430" width="6" height="2" fill="#97bf7e"/>
<rect x="674" y="428" width="6" height="8" fill="#ab2a20"/>
<rect x="684" y="432" width="2" height="4" fill="#b0351f"/>
<rect x="684" y="438" width="2" height="2" fill="#b0351f"/>
<rect x="682" y="436" width="6" height="2" fill="#ab2a20"/>
<rect x="688" y="436" width="6" height="6" fill="#ab2a20"/>
<rect x="698" y="438" width="2" height="2" fill="#b0351f"/>
<rect x="696" y="440" width="6" height="10" fill="#ab2a20"/>
<rect x="704" y="448" width="2" height="4" fill="#97bf7e"/>
<rect x="702" y="442" width="6" height="6" fill="#347361"/>
<rect x="712" y="432" width="2" height="2" fill="#97bf7e"/>
<rect x="710" y="434" width="6" height="8" fill="#347361"/>
<rect x="718" y="434" width="2" height="2" fill="#97bf7e"/>
<rect x="716" y="432" width="6" height="2" fill="#97bf7e"/>
<rect x="724" y="424" width="6" height="8" fill="#347361"/>
<rect x="732" y="426" width="2" height="4" fill="#b0351f"/>
<rect x="730" y="424" width="6" height="2" fill="#ab2a20"/>
<rect x="740" y="424" width="2" height="2" fill="#97bf7e"/>
<rect x="740" y="428" width="2" height="2" fill="#97bf7e"/>
<rect x="738" y="426" width="6" height="2" fill="#97bf7e"/>
<rect x="746" y="424" width="2" height="4" fill="#b0351f"/>
<rect x="744" y="428" width="6" height="2" fill="#ab2a20"/>
<rect x="752" y="426" width="2" height="2" fill="#b0351f"/>
<rect x="750" y="428" width="6" height="4" fill="#ab2a20"/>
<rect x="760" y="428" width="2" height="2" fill="#97bf7e"/>
<rect x="758" y="430" width="6" height="4" fill="#347361"/>
<rect x="766" y="426" width="2" height="2" fill="#b0351f"/>
<rect x="764" y="428" width="6" height="6" fill="#ab2a20"/>
<rect x="774" y="430" width="2" height="2" fill="#b0351f"/>
<rect x="774" y="434" width="2" height="4" fill="#b0351f"/>
<rect x="772" y="432" width="6" height="2" fill="#ab2a20"/>
<rect x="778" y="430" width="6" height="4" fill="#347361"/>
<rect x="788" y="424" width="2" height="2" fill="#97bf7e"/>
<rect x="786" y="426" width="6" height="6" fill="#347361"/>
<rect x="792" y="424" width="6" height="2" fill="#97bf7e"/>
<rect x="800" y="416" width="6" height="10" fill="#347361"/>
<rect x="806" y="416" width="6" height="4" fill="#ab2a20"/>
<rect x="816" y="418" width="2" height="2" fill="#b0351f"/>
<rect x="816" y="424" width="2" height="2" fill="#b0351f"/>
<rect x="814" y="420" width="6" height="4" fill="#ab2a20"/>
<rect x="822" y="420" width="2" height="2" fill="#b0351f"/>
<rect x="820" y="422" width="6" height="2" fill="#ab2a20"/>
<rect x="830" y="420" width="2" height="2" fill="#b0351f"/>
<rect x="828" y="422" width="6" height="6" fill="#ab2a20"/>
<rect x="834" y="420" width="6" height="8" fill="#347361"/>
<rect x="844" y="416" width="2" height="2" fill="#97bf7e"/>
<rect x="842" y="418" width="6" height="2" fill="#97bf7e"/>
<rect x="848" y="414" width="6" height="2" fill="#97bf7e"/>
<rect x="854" y="410" width="6" height="4" fill="#347361"/>
<rect x="864" y="408" width="2" height="2" fill="#b0351f"/>
<rect x="862" y="410" width="6" height="4" fill="#ab2a20"/>
<rect x="868" y="412" width="6" height="6" fill="#ab2a20"/>
<rect x="878" y="414" width="2" height="2" fill="#b0351f"/>
<rect x="876" y="416" width="6" height="2" fill="#ab2a20"/>
<rect x="884" y="412" width="2" height="4" fill="#b0351f"/>
<rect x="882" y="416" width="6" height="6" fill="#ab2a20"/>
<rect x="890" y="410" width="6" height="12" fill="#347361"/>
<rect x="898" y="410" width="2" height="2" fill="#b0351f"/>
<rect x="898" y="414" width="2" height="2" fill="#b0351f"/>
<rect x="896" y="412" width="6" height="2" fill="#ab2a20"/>
<rect x="906" y="410" width="2" height="2" fill="#b0351f"/>
<rect x="906" y="414" width="2" height="2" fill="#b0351f"/>
<rect x="904" y="412" width="6" height="2" fill="#ab2a20"/>
<rect x="912" y="408" width="2" height="2" fill="#b0351f"/>
<rect x="910" y="410" width="6" height="6" fill="#ab2a20"/>
<rect x="920" y="412" width="2" height="2" fill="#b0351f"/>
<rect x="918" y="414" width="6" height="2" fill="#ab2a20"/>
<rect x="924" y="414" width="6" height="10" fill="#ab2a20"/>
<rect x="934" y="420" width="2" height="2" fill="#97bf7e"/>
<rect x="932" y="422" width="6" height="2" fill="#97bf7e"/>
<rect x="938" y="416" width="6" height="8" fill="#347361"/>
<rect x="948" y="414" width="2" height="4" fill="#b0351f"/>
<rect x="946" y="418" width="6" height="2" fill="#ab2a20"/>
<rect x="954" y="412" width="2" height="2" fill="#97bf7e"/>
<rect x="952" y="414" width="6" height="6" fill="#347361"/>
<rect x="960" y="414" width="6" height="10" fill="#ab2a20"/>
<rect x="966" y="422" width="6" height="6" fill="#ab2a20"/>
<rect x="972" y="428" width="6" height="6" fill="#ab2a20"/>
<rect x="982" y="424" width="2" height="2" fill="#97bf7e"/>
<rect x="982" y="428" width="2" height="4" fill="#97bf7e"/>
<rect x="980" y="426" width="6" height="2" fill="#97bf7e"/>
<rect x="988" y="426" width="2" height="2" fill="#b0351f"/>
<rect x="986" y="428" width="6" height="8" fill="#ab2a20"/>
<rect x="996" y="434" width="2" height="2" fill="#b0351f"/>
<rect x="994" y="436" width="6" height="8" fill="#ab2a20"/>
<rect x="1002" y="434" width="2" height="2" fill="#97bf7e"/>
<rect x="1000" y="436" width="6" height="8" fill="#347361"/>
<rect x="1010" y="422" width="2" height="10" fill="#97bf7e"/>
<rect x="1008" y="432" width="6" height="2" fill="#97bf7e"/>
<rect x="1016" y="424" width="2" height="2" fill="#97bf7e"/>
<rect x="1014" y="426" width="6" height="6" fill="#347361"/>
<rect x="1024" y="420" width="2" height="4" fill="#97bf7e"/>
<rect x="1022" y="424" width="6" height="4" fill="#347361"/>
<rect x="1030" y="420" width="2" height="2" fill="#97bf7e"/>
<rect x="1028" y="422" width="6" height="2" fill="#97bf7e"/>
<rect x="1038" y="420" width="2" height="2" fill="#b0351f"/>
<rect x="1036" y="422" width="6" height="2" fill="#ab2a20"/>
<rect x="1042" y="416" width="6" height="6" fill="#347361"/>
<rect x="1052" y="412" width="2" height="2" fill="#97bf7e"/>
<rect x="1050" y="414" width="6" height="4" fill="#347361"/>
<rect x="1056" y="408" width="6" height="6" fill="#347361"/>
<rect x="1066" y="406" width="2" height="4" fill="#b0351f"/>
<rect x="1064" y="410" width="6" height="8" fill="#ab2a20"/>
<rect x="1070" y="414" width="6" height="8" fill="#ab2a20"/>
<rect x="1078" y="428" width="2" height="2" fill="#b0351f"/>
<rect x="1076" y="420" width="6" height="8" fill="#ab2a20"/>
<rect x="1086" y="422" width="2" height="2" fill="#b0351f"/>
<rect x="1086" y="426" width="2" height="2" fill="#b0351f"/>
<rect x="1084" y="424" width="6" height="2" fill="#ab2a20"/>
<rect x="1090" y="412" width="6" height="14" fill="#347361"/>
<rect x="1100" y="410" width="2" height="2" fill="#97bf7e"/>
<rect x="1100" y="414" width="2" height="4" fill="#97bf7e"/>
<rect x="1098" y="412" width="6" height="2" fill="#97bf7e"/>
<rect x="1106" y="410" width="2" height="4" fill="#97bf7e"/>
<rect x="1104" y="408" width="6" height="2" fill="#97bf7e"/>
<rect x="1114" y="404" width="2" height="4" fill="#97bf7e"/>
<rect x="1112" y="408" width="6" height="2" fill="#97bf7e"/>
<rect x="1120" y="408" width="2" height="2" fill="#b0351f"/>
<rect x="1118" y="410" width="6" height="2" fill="#ab2a20"/>
<rect x="1128" y="408" width="2" height="2" fill="#97bf7e"/>
<rect x="1126" y="406" width="6" height="2" fill="#97bf7e"/>
<rect x="1134" y="402" width="2" height="6" fill="#97bf7e"/>
<rect x="1132" y="408" width="6" height="2" fill="#97bf7e"/>
<rect x="1142" y="398" width="2" height="2" fill="#97bf7e"/>
<rect x="1142" y="408" width="2" height="2" fill="#97bf7e"/>
<rect x="1140" y="400" width="6" height="8" fill="#347361"/>
<rect x="1148" y="396" width="2" height="4" fill="#b0351f"/>
<rect x="1146" y="400" width="6" height="2" fill="#ab2a20"/>
<rect x="1154" y="398" width="6" height="6" fill="#ab2a20"/>
<rect x="1162" y="400" width="2" height="2" fill="#b0351f"/>
<rect x="1160" y="402" width="6" height="6" fill="#ab2a20"/>
<rect x="1170" y="406" width="2" height="2" fill="#b0351f"/>
<rect x="1170" y="416" width="2" height="2" fill="#b0351f"/>
<rect x="1168" y="408" width="6" height="8" fill="#ab2a20"/>
<rect x="1176" y="406" width="2" height="2" fill="#97bf7e"/>
<rect x="1174" y="408" width="6" height="6" fill="#347361"/>
<rect x="1182" y="404" width="2" height="2" fill="#97bf7e"/>
<rect x="1180" y="406" width="6" height="2" fill="#97bf7e"/>
<rect x="1190" y="400" width="2" height="2" fill="#97bf7e"/>
<rect x="1188" y="402" width="6" height="2" fill="#97bf7e"/>
<rect x="1196" y="398" width="2" height="4" fill="#b0351f"/>
<rect x="1194" y="402" width="6" height="2" fill="#ab2a20"/>
<rect x="1204" y="398" width="2" height="2" fill="#b0351f"/>
<rect x="1202" y="400" width="6" height="8" fill="#ab2a20"/>
<rect x="1210" y="402" width="2" height="2" fill="#b0351f"/>
<rect x="1208" y="404" width="6" height="8" fill="#ab2a20"/>
<rect x="1216" y="402" width="6" height="8" fill="#347361"/>
<rect x="1224" y="396" width="2" height="2" fill="#97bf7e"/>
<rect x="1222" y="398" width="6" height="8" fill="#347361"/>
<rect x="1232" y="394" width="2" height="2" fill="#97bf7e"/>
<rect x="1230" y="396" width="6" height="6" fill="#347361"/>
<rect x="1236" y="396" width="6" height="4" fill="#347361"/>
<rect x="1246" y="388" width="2" height="2" fill="#97bf7e"/>
<rect x="1244" y="390" width="6" height="8" fill="#347361"/>
<rect x="1252" y="386" width="2" height="4" fill="#b0351f"/>
<rect x="1250" y="390" width="6" height="2" fill="#ab2a20"/>
<rect x="1258" y="388" width="6" height="10" fill="#ab2a20"/>
<rect x="1264" y="396" width="6" height="8" fill="#ab2a20"/>
<rect x="1274" y="396" width="2" height="4" fill="#b0351f"/>
<rect x="1272" y="400" width="6" height="8" fill="#ab2a20"/>
<rect x="1280" y="416" width="2" height="18" fill="#b0351f"/>
<rect x="1278" y="412" width="6" height="4" fill="#ab2a20"/>
<rect x="1286" y="404" width="6" height="12" fill="#347361"/>
<rect x="1294" y="402" width="2" height="2" fill="#97bf7e"/>
<rect x="1294" y="406" width="2" height="2" fill="#97bf7e"/>
<rect x="1292" y="404" width="6" height="2" fill="#97bf7e"/>
<rect x="1298" y="402" width="6" height="6" fill="#ab2a20"/>
<rect x="1308" y="404" width="2" height="2" fill="#b0351f"/>
<rect x="1306" y="406" width="6" height="14" fill="#ab2a20"/>
<rect x="1312" y="416" width="6" height="8" fill="#347361"/>
<rect x="1322" y="412" width="2" height="2" fill="#b0351f"/>
<rect x="1322" y="416" width="2" height="2" fill="#b0351f"/>
<rect x="1320" y="414" width="6" height="2" fill="#ab2a20"/>
<rect x="1328" y="406" width="2" height="2" fill="#97bf7e"/>
<rect x="1326" y="408" width="6" height="8" fill="#347361"/>
<rect x="1334" y="408" width="6" height="10" fill="#ab2a20"/>
<rect x="1342" y="412" width="2" height="2" fill="#97bf7e"/>
<rect x="1342" y="416" width="2" height="2" fill="#97bf7e"/>
<rect x="1340" y="414" width="6" height="2" fill="#97bf7e"/>
<rect x="1350" y="410" width="2" height="4" fill="#b0351f"/>
<rect x="1348" y="414" width="6" height="2" fill="#ab2a20"/>
<rect x="1356" y="412" width="2" height="4" fill="#b0351f"/>
<rect x="1354" y="416" width="6" height="2" fill="#ab2a20"/>
<rect x="1364" y="412" width="2" height="2" fill="#b0351f"/>
<rect x="1362" y="414" width="6" height="6" fill="#ab2a20"/>
<rect x="1370" y="414" width="2" height="4" fill="#97bf7e"/>
<rect x="1368" y="418" width="6" height="2" fill="#97bf7e"/>
<rect x="1378" y="432" width="2" height="2" fill="#b0351f"/>
<rect x="1376" y="418" width="6" height="14" fill="#ab2a20"/>
<rect x="1382" y="422" width="6" height="8" fill="#347361"/>
<rect x="1392" y="418" width="2" height="2" fill="#b0351f"/>
<rect x="1390" y="420" width="6" height="8" fill="#ab2a20"/>
<rect x="1398" y="422" width="2" height="2" fill="#b0351f"/>
<rect x="1396" y="424" width="6" height="8" fill="#ab2a20"/>
<rect x="1404" y="422" width="2" height="2" fill="#97bf7e"/>
<rect x="1404" y="434" width="2" height="2" fill="#97bf7e"/>
<rect x="1402" y="424" width="6" height="10" fill="#347361"/>
<rect x="1410" y="422" width="6" height="12" fill="#ab2a20"/>
<rect x="1418" y="428" width="2" height="4" fill="#b0351f"/>
<rect x="1416" y="432" width="6" height="2" fill="#ab2a20"/>
<rect x="1424" y="428" width="6" height="6" fill="#347361"/>
<rect x="1432" y="420" width="2" height="2" fill="#97bf7e"/>
<rect x="1430" y="422" width="6" height="8" fill="#347361"/>
<rect x="1440" y="422" width="2" height="2" fill="#97bf7e"/>
<rect x="1438" y="420" width="6" height="2" fill="#97bf7e"/>
<rect x="1446" y="418" width="2" height="2" fill="#97bf7e"/>
<rect x="1444" y="420" width="6" height="2" fill="#97bf7e"/>
<rect x="1454" y="420" width="2" height="2" fill="#b0351f"/>
<rect x="1452" y="422" width="6" height="2" fill="#ab2a20"/>
<rect x="1458" y="420" width="6" height="8" fill="#347361"/>
<rect x="1466" y="414" width="6" height="10" fill="#347361"/>
<rect x="1474" y="406" width="2" height="2" fill="#97bf7e"/>
<rect x="1472" y="408" width="6" height="8" fill="#347361"/>
<rect x="1480" y="410" width="6" height="12" fill="#ab2a20"/>
<rect x="1486" y="416" width="6" height="6" fill="#347361"/>
<rect x="1496" y="414" width="2" height="2" fill="#97bf7e"/>
<rect x="1496" y="418" width="2" height="4" fill="#97bf7e"/>
<rect x="1494" y="416" width="6" height="2" fill="#97bf7e"/>
<rect x="1502" y="408" width="2" height="2" fill="#97bf7e"/>
<rect x="1500" y="410" width="6" height="6" fill="#347361"/>
<rect x="1508" y="408" width="2" height="2" fill="#b0351f"/>
<rect x="1506" y="410" width="6" height="10" fill="#ab2a20"/>
<rect x="1516" y="420" width="2" height="2" fill="#b0351f"/>
<rect x="1514" y="422" width="6" height="6" fill="#ab2a20"/>
<rect x="1522" y="428" width="2" height="2" fill="#97bf7e"/>
<rect x="1522" y="438" width="2" height="4" fill="#97bf7e"/>
<rect x="1520" y="430" width="6" height="8" fill="#347361"/>
<rect x="1528" y="424" width="6" height="6" fill="#347361"/>
<rect x="1534" y="418" width="6" height="8" fill="#347361"/>
<rect x="1544" y="416" width="2" height="2" fill="#97bf7e"/>
<rect x="1542" y="418" width="6" height="2" fill="#97bf7e"/>
<rect x="1550" y="414" width="2" height="2" fill="#97bf7e"/>
<rect x="1548" y="416" width="6" height="2" fill="#97bf7e"/>
<rect x="1558" y="410" width="2" height="2" fill="#97bf7e"/>
<rect x="1556" y="412" width="6" height="4" fill="#347361"/>
<rect x="1564" y="410" width="2" height="2" fill="#b0351f"/>
<rect x="1562" y="412" width="6" height="4" fill="#ab2a20"/>
<rect x="1572" y="402" width="2" height="2" fill="#97bf7e"/>
<rect x="1570" y="404" width="6" height="12" fill="#347361"/>
<rect x="1578" y="392" width="2" height="2" fill="#97bf7e"/>
<rect x="1576" y="394" width="6" height="12" fill="#347361"/>
<rect x="1586" y="382" width="2" height="4" fill="#97bf7e"/>
<rect x="1584" y="386" width="6" height="6" fill="#347361"/>
<rect x="1590" y="374" width="6" height="14" fill="#347361"/>
<rect x="1600" y="364" width="2" height="6" fill="#97bf7e"/>
<rect x="1598" y="370" width="6" height="8" fill="#347361"/>
<rect x="1606" y="364" width="2" height="8" fill="#b0351f"/>
<rect x="1604" y="372" width="6" height="2" fill="#ab2a20"/>
<rect x="1614" y="356" width="2" height="4" fill="#97bf7e"/>
<rect x="1612" y="360" width="6" height="14" fill="#347361"/>
<rect x="1620" y="356" width="2" height="2" fill="#97bf7e"/>
<rect x="1620" y="360" width="2" height="2" fill="#97bf7e"/>
<rect x="1618" y="358" width="6" height="2" fill="#97bf7e"/>
<rect x="1626" y="354" width="2" height="4" fill="#97bf7e"/>
<rect x="1626" y="360" width="2" height="2" fill="#97bf7e"/>
<rect x="1624" y="358" width="6" height="2" fill="#97bf7e"/>
<rect x="1634" y="350" width="2" height="4" fill="#b0351f"/>
<rect x="1632" y="354" width="6" height="12" fill="#ab2a20"/>
<rect x="1640" y="354" width="2" height="2" fill="#97bf7e"/>
<rect x="1638" y="356" width="6" height="12" fill="#347361"/>
<rect x="1648" y="354" width="2" height="2" fill="#97bf7e"/>
<rect x="1646" y="356" width="6" height="2" fill="#97bf7e"/>
<rect x="1654" y="356" width="2" height="2" fill="#b0351f"/>
<rect x="1654" y="362" width="2" height="6" fill="#b0351f"/>
<rect x="1652" y="358" width="6" height="4" fill="#ab2a20"/>
<rect x="1662" y="356" width="2" height="2" fill="#b0351f"/>
<rect x="1660" y="358" width="6" height="2" fill="#ab2a20"/>
<rect x="1668" y="362" width="2" height="2" fill="#97bf7e"/>
<rect x="1666" y="356" width="6" height="6" fill="#347361"/>
<rect x="1674" y="340" width="6" height="18" fill="#347361"/>
<rect x="1682" y="332" width="2" height="2" fill="#97bf7e"/>
<rect x="1680" y="334" width="6" height="6" fill="#347361"/>
<rect x="1690" y="330" width="2" height="2" fill="#b0351f"/>
<rect x="1688" y="332" width="6" height="10" fill="#ab2a20"/>
<rect x="1694" y="324" width="6" height="16" fill="#347361"/>
<rect x="1704" y="318" width="2" height="2" fill="#97bf7e"/>
<rect x="1702" y="320" width="6" height="2" fill="#97bf7e"/>
<rect x="1710" y="302" width="2" height="4" fill="#97bf7e"/>
<rect x="1710" y="326" width="2" height="2" fill="#97bf7e"/>
<rect x="1708" y="306" width="6" height="20" fill="#347361"/>
<rect x="1718" y="306" width="2" height="2" fill="#97bf7e"/>
<rect x="1716" y="288" width="6" height="18" fill="#347361"/>
<rect x="1724" y="268" width="2" height="4" fill="#97bf7e"/>
<rect x="1724" y="284" width="2" height="2" fill="#97bf7e"/>
<rect x="1722" y="272" width="6" height="12" fill="#347361"/>
<rect x="1730" y="262" width="2" height="10" fill="#b0351f"/>
<rect x="1730" y="288" width="2" height="8" fill="#b0351f"/>
<rect x="1728" y="272" width="6" height="16" fill="#ab2a20"/>
<rect x="1738" y="266" width="2" height="16" fill="#97bf7e"/>
<rect x="1736" y="282" width="6" height="2" fill="#97bf7e"/>
<rect x="1744" y="274" width="2" height="2" fill="#b0351f"/>
<rect x="1742" y="276" width="6" height="22" fill="#ab2a20"/>
<rect x="1752" y="280" width="2" height="10" fill="#97bf7e"/>
<rect x="1752" y="292" width="2" height="6" fill="#97bf7e"/>
<rect x="1750" y="290" width="6" height="2" fill="#97bf7e"/>
<rect x="1758" y="288" width="2" height="4" fill="#97bf7e"/>
<rect x="1756" y="274" width="6" height="14" fill="#347361"/>
<rect x="1766" y="266" width="2" height="2" fill="#97bf7e"/>
<rect x="1766" y="274" width="2" height="2" fill="#97bf7e"/>
<rect x="1764" y="268" width="6" height="6" fill="#347361"/>
<rect x="1772" y="272" width="2" height="6" fill="#b0351f"/>
<rect x="1772" y="282" width="2" height="2" fill="#b0351f"/>
<rect x="1770" y="278" width="6" height="4" fill="#ab2a20"/>
<rect x="1778" y="270" width="6" height="6" fill="#347361"/>
<rect x="1784" y="254" width="6" height="16" fill="#347361"/>
<rect x="1794" y="224" width="2" height="4" fill="#97bf7e"/>
<rect x="1792" y="228" width="6" height="20" fill="#347361"/>
<rect x="1800" y="202" width="2" height="2" fill="#97bf7e"/>
<rect x="1800" y="224" width="2" height="6" fill="#97bf7e"/>
<rect x="1798" y="204" width="6" height="20" fill="#347361"/>
<rect x="1808" y="188" width="2" height="2" fill="#97bf7e"/>
<rect x="1806" y="190" width="6" height="18" fill="#347361"/>
<rect x="1814" y="160" width="2" height="8" fill="#97bf7e"/>
<rect x="1814" y="192" width="2" height="8" fill="#97bf7e"/>
<rect x="1812" y="168" width="6" height="24" fill="#347361"/>
<rect x="1822" y="154" width="2" height="24" fill="#b0351f"/>
<rect x="1822" y="182" width="2" height="16" fill="#b0351f"/>
<rect x="1820" y="178" width="6" height="4" fill="#ab2a20"/>
<rect x="1828" y="134" width="2" height="8" fill="#97bf7e"/>
<rect x="1828" y="164" width="2" height="2" fill="#97bf7e"/>
<rect x="1826" y="142" width="6" height="22" fill="#347361"/>
<rect x="1832" y="114" width="6" height="18" fill="#347361"/>
<rect x="1842" y="106" width="2" height="10" fill="#97bf7e"/>
<rect x="1840" y="68" width="6" height="38" fill="#347361"/>
</g>
<text class="yl" x="1894.2" y="105">6,000.00</text>
<text class="yl" x="1894.2" y="199">5,000.00</text>
<text class="yl" x="1894.2" y="291">4,000.00</text>
<text class="yl" x="1894.2" y="385">3,000.00</text>
<text class="yl" x="1894.2" y="479">2,000.00</text>
<text class="xl" x="340.5" y="540" text-anchor="middle">2022</text>
<text class="xl" x="700.4" y="540" text-anchor="middle">2023</text>
<text class="xl" x="1062" y="540" text-anchor="middle">2024</text>
<text class="xl" x="1430.3" y="570" text-anchor="middle">2025</text>
<text class="xl" x="1790.4" y="540" text-anchor="middle">2026</text>
<rect x="1886" y="45" width="104.5" height="47.5" rx="5" fill="#347361"/>
<text x="1895" y="78.3" font-size="22.3" fill="#fff">6,307.27</text>
<rect x="521" y="-14" width="77" height="21.8" rx="7" fill="#edf4fc"/>
<g filter="url(#sh)">
<rect x="501" y="18" width="117" height="48" rx="8.5" fill="#fff"/>
<polygon points="549.5,19 559.2,9.6 568.5,19" fill="#fff"/>
<rect x="502" y="19" width="115" height="46" rx="7.5" fill="#377a67"/>
<polygon points="550.5,19.5 559.2,11 567.5,19.5" fill="#377a67"/>
</g>
<text x="559.3" y="50.7" font-size="24.5" font-weight="bold" fill="#fff" text-anchor="middle">109.34%</text>
</svg>
</body></html>
